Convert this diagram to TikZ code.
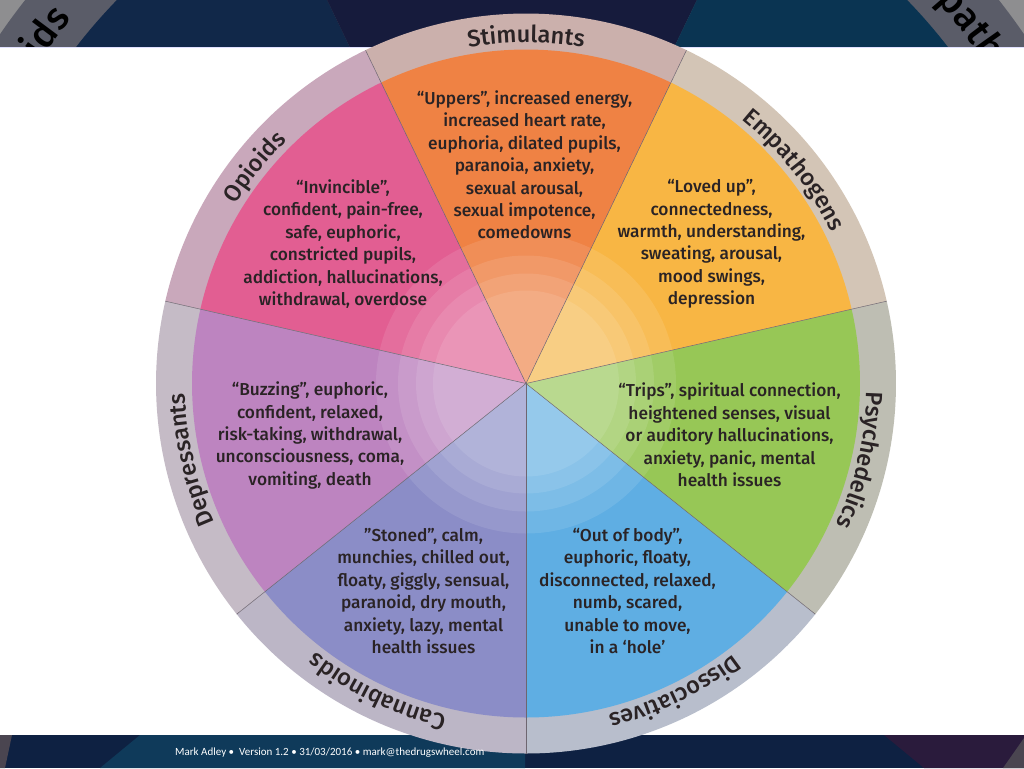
\documentclass[tikz,border=0pt]{standalone}
\usepackage{fontspec}
\setmainfont{Fira Sans Medium}
\newfontfamily\footfont{Carlito}
\usetikzlibrary{decorations.text}
\definecolor{stimC}{HTML}{EF8244}
\definecolor{empC}{HTML}{F8B644}
\definecolor{psyC}{HTML}{97C756}
\definecolor{dissC}{HTML}{5FAEE3}
\definecolor{canC}{HTML}{8B8DC7}
\definecolor{depC}{HTML}{BD84C0}
\definecolor{opiC}{HTML}{E25E92}
\definecolor{stimR}{HTML}{CBB0AC}
\definecolor{empR}{HTML}{D3C5B6}
\definecolor{psyR}{HTML}{BEBEB3}
\definecolor{dissR}{HTML}{B8BECC}
\definecolor{canR}{HTML}{BCB6C6}
\definecolor{depR}{HTML}{C5BBC6}
\definecolor{opiR}{HTML}{C9A8BB}
\definecolor{textC}{HTML}{2A2325}
\definecolor{spokeC}{HTML}{6E6670}
\definecolor{bgGrey}{HTML}{8E8E90}
\definecolor{bgRing}{HTML}{5A5C68}
\definecolor{bgOpi}{HTML}{112849}
\definecolor{bgStim}{HTML}{161B3C}
\definecolor{bgEmp}{HTML}{0A3452}
\definecolor{bgNavy}{HTML}{0E2142}
\definecolor{bgTeal}{HTML}{0F3A5A}
\definecolor{bgPurple}{HTML}{2A1B3C}
\definecolor{bgBrown}{HTML}{4A4550}
\newcommand\ringfont{\fontsize{23.5}{23.5}\selectfont}
\newcommand\bigringfont{\fontsize{38}{38}\selectfont}
\tikzset{
  body/.style={align=center, inner sep=0pt, text=textC, font=\fontsize{17.3}{22.4}\selectfont},
  spoke/.style={draw=spokeC, line width=0.5pt},
  glow/.style={fill=white, fill opacity=0.1},
  foot/.style={inner sep=0pt, anchor=west, text=white, font=\footfont\fontsize{11}{11}\selectfont}
}
\begin{document}
\begin{tikzpicture}[x=1pt,y=1pt]
\useasboundingbox (0,0) rectangle (1024,-768);
\fill[white] (0,0) rectangle (1024,-768);
% ---------- top band (background wheel, enlarged) ----------
\coordinate (B) at (512,-384);
\begin{scope}
  \clip (0,0) rectangle (1024,-47);
  \fill[bgGrey] (0,0) rectangle (1024,-47);
  \fill[bgRing] (B) circle[radius=620];
  \fill[bgOpi] (B) -- ++(115.71:551) arc[start angle=115.71, end angle=167.14, radius=551] -- cycle;
  \fill[bgStim] (B) -- ++(64.29:551) arc[start angle=64.29, end angle=115.71, radius=551] -- cycle;
  \fill[bgEmp] (B) -- ++(12.86:551) arc[start angle=12.86, end angle=64.29, radius=551] -- cycle;
  \path[decorate, decoration={text along path, text align=left, text color=black, text={|\bigringfont|ids}}]
    (B) ++(145.5:572) arc[start angle=145.5, end angle=100, radius=572];
  \path[decorate, decoration={text along path, text align=center, text color=black, text={|\bigringfont|Empathogens}}]
    (B) ++(60.5:572) arc[start angle=60.5, end angle=10.5, radius=572];
\end{scope}
\draw[color=white!60!blue!30, line width=0.6pt] (0,-47) -- (1024,-47);
% ---------- bottom band ----------
\begin{scope}
  \clip (0,-735) rectangle (1024,-768);
  \fill[bgNavy] (0,-735) rectangle (1024,-768);
  \fill[bgTeal] (140,-735) -- (525,-735) -- (525,-768) -- (100,-768) -- cycle;
  \fill[bgPurple] (884,-735) -- (1024,-735) -- (1024,-768) -- (924,-768) -- cycle;
  \fill[bgBrown] (1024,-738) -- (1024,-768) -- (1003,-768) -- cycle;
  \fill[bgBrown] (0,-735) -- (12,-735) -- (5,-768) -- (0,-768) -- cycle;
\end{scope}
% ---------- main wheel ----------
\coordinate (C) at (526,-383.5);
\foreach \s/\c/\r in {270/dissC/dissR, -38.57/psyC/psyR, 12.86/empC/empR, 64.29/stimC/stimR, 115.71/opiC/opiR, 167.14/depC/depR, 218.57/canC/canR}{
  \fill[\r] (C) -- ++(\s:370) arc[start angle=\s, delta angle=51.43, radius=370] -- cycle;
  \fill[\c] (C) -- ++(\s:334) arc[start angle=\s, delta angle=51.43, radius=334] -- cycle;
}
\fill[glow] (C) circle[radius=150];
\fill[glow] (C) circle[radius=128];
\fill[glow] (C) circle[radius=110];
\fill[glow] (C) circle[radius=93];
\foreach \s in {270, -38.57, 12.86, 64.29, 115.71, 167.14, 218.57}{
  \draw[spoke] (C) -- ++(\s:370);
}
% ring labels
\foreach \m/\t in {90/Stimulants, 38.57/Empathogens, -12.86/Psychedelics, -64.29/Dissociatives, -115.71/Cannabinoids, 192.86/Depressants, 141.43/Opioids}{
  \path[decorate, decoration={text along path, text align=center, text color=textC, text={|\ringfont|\t}}]
    (C) ++({\m+25.7}:341) arc[start angle={\m+25.7}, end angle={\m-25.7}, radius=341];
}
% sector texts
\node[body] (tStim) at (524.5,-165) {“Uppers”, increased energy,\\increased heart rate,\\euphoria, dilated pupils,\\paranoia, anxiety,\\sexual arousal,\\sexual impotence,\\comedowns};
\node[body] (tOpi) at (343,-244) {“Invincible”,\\confident, pain-free,\\safe, euphoric,\\constricted pupils,\\addiction, hallucinations,\\withdrawal, overdose};
\node[body] (tEmp) at (711.5,-244) {“Loved up”,\\connectedness,\\warmth, understanding,\\sweating, arousal,\\mood swings,\\depression};
\node[body] (tDep) at (310,-435.5) {“Buzzing”, euphoric,\\confident, relaxed,\\risk-taking, withdrawal,\\unconsciousness, coma,\\vomiting, death};
\node[body] (tPsy) at (729.5,-435) {“Trips”, spiritual connection,\\heightened senses, visual\\or auditory hallucinations,\\anxiety, panic, mental\\health issues};
\node[body] (tCan) at (423.5,-591) {”Stoned”, calm,\\munchies, chilled out,\\floaty, giggly, sensual,\\paranoid, dry mouth,\\anxiety, lazy, mental\\health issues};
\node[body] (tDis) at (627.5,-591) {“Out of body”,\\euphoric, floaty,\\disconnected, relaxed,\\numb, scared,\\unable to move,\\in a ‘hole’};
% footer
\node[foot] (footer) at (175,-753) {Mark Adley •~ Version 1.2 • 31/03/2016 • mark@thedrugswheel.com};
\end{tikzpicture}
\end{document}
